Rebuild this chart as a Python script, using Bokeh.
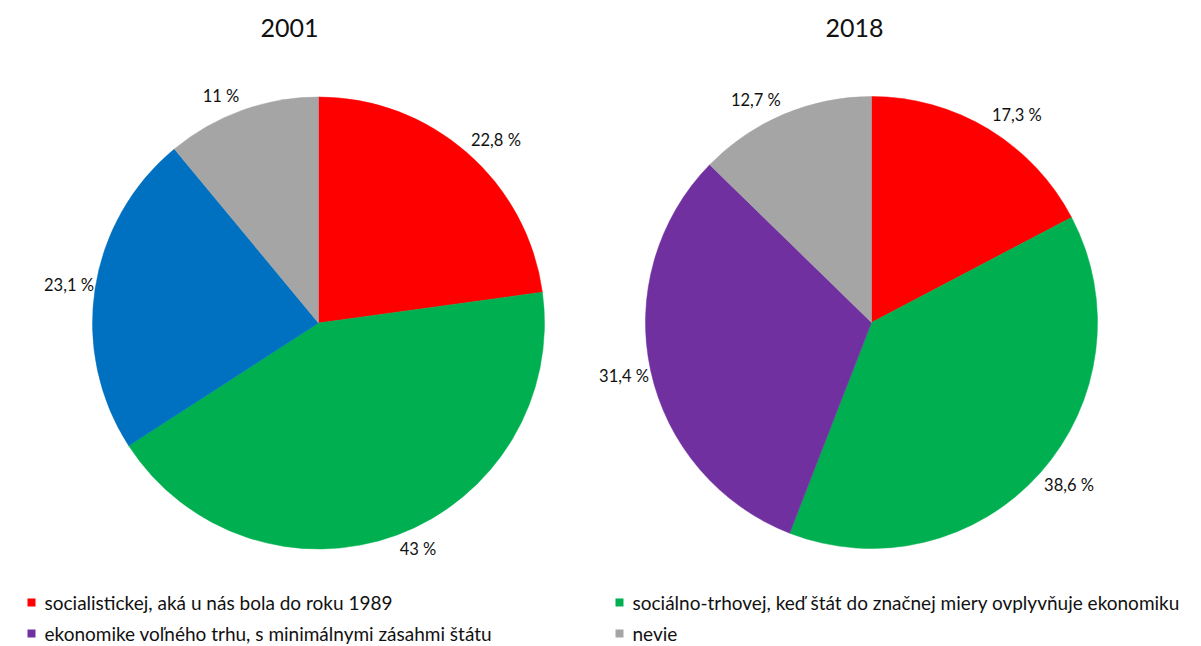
import numpy as np
from bokeh.plotting import figure
from bokeh.models import Range1d, ColumnDataSource
from bokeh.core.properties import value
from bokeh.embed import file_html
from bokeh.resources import INLINE

# ---- data ----
years = ["2001", "2018"]
values_2001 = [22.8, 43.0, 23.1, 11.0]
values_2018 = [17.3, 38.6, 31.4, 12.7]
labels_2001 = ["22,8 %", "43 %", "23,1 %", "11 %"]
labels_2018 = ["17,3 %", "38,6 %", "31,4 %", "12,7 %"]
colors_2001 = ["#FF0000", "#00B050", "#0070C0", "#A5A5A5"]
colors_2018 = ["#FF0000", "#00B050", "#7030A0", "#A5A5A5"]
legend_labels = [
    "socialistickej, aká u nás bola do roku 1989",
    "sociálno-trhovej, keď štát do značnej miery ovplyvňuje ekonomiku",
    "ekonomike voľného trhu, s minimálnymi zásahmi štátu",
    "nevie",
]
legend_colors = ["#FF0000", "#00B050", "#7030A0", "#A5A5A5"]

# ---- layout ----
W, H = 1201, 646
FONT = "Lato"
TXT = "#111111"


def sy(screen_y):
    return H - screen_y


def sx(screen_x):
    return screen_x


p = figure(width=W, height=H, output_backend="svg", toolbar_location=None,
           x_range=Range1d(0, W), y_range=Range1d(0, H),
           x_axis_location=None, y_axis_location=None, min_border=0)
p.outline_line_color = None
p.grid.visible = False
p.background_fill_color = "white"
p.border_fill_color = "white"

R = 226
pies = [
    (values_2001, labels_2001, colors_2001, sx(318), sy(322.5), sx(289)),
    (values_2018, labels_2018, colors_2018, sx(871), sy(322), sx(854)),
]

for (vals, labs, cols, cx, cy, tx), year in zip(pies, years):
    v = np.array(vals, dtype=float)
    frac = v / v.sum()
    cum = np.concatenate([[0], np.cumsum(frac)])
    start = np.pi / 2 - cum[:-1] * 2 * np.pi
    end = np.pi / 2 - cum[1:] * 2 * np.pi
    src = ColumnDataSource(dict(start=start, end=end, color=cols))
    p.wedge(x=cx, y=cy, radius=R, start_angle="start", end_angle="end",
            direction="clock", fill_color="color", line_color="color",
            line_width=0.5, source=src)
    mid = (cum[:-1] + cum[1:]) / 2 * 2 * np.pi  # clockwise from top
    ux = np.sin(mid)
    uy = np.cos(mid)  # up positive in data coords
    lx, ly, al = [], [], []
    for i in range(len(v)):
        px = cx + (R + 8 * abs(uy[i])) * ux[i]
        py = cy + (R + 8) * uy[i] + 7 * np.clip(2.5 * uy[i], -1, 1)
        lx.append(px)
        ly.append(py)
        al.append("left" if ux[i] >= 0 else "right")
    p.text(x=lx, y=ly, text=labs, text_align=al, text_baseline="middle",
           text_font=value(FONT), text_font_size="16.5px", text_color=TXT)
    p.text(x=[tx], y=[sy(27)], text=[year], text_align="center",
           text_baseline="middle", text_font=value(FONT),
           text_font_size="25px", text_color=TXT)

# legend
col_x = [sx(31), sx(619)]
row_y = [sy(602), sy(633)]
for i, (lab, col) in enumerate(zip(legend_labels, legend_colors)):
    x0 = col_x[i % 2]
    y0 = row_y[i // 2]
    p.rect(x=[x0], y=[y0], width=8, height=8, fill_color=col, line_color=None)
    p.text(x=[x0 + 13], y=[y0], text=[lab], text_align="left",
           text_baseline="middle", text_font=value(FONT),
           text_font_size="19px", text_color=TXT)

open("out.html", "w").write(file_html(p, INLINE))
